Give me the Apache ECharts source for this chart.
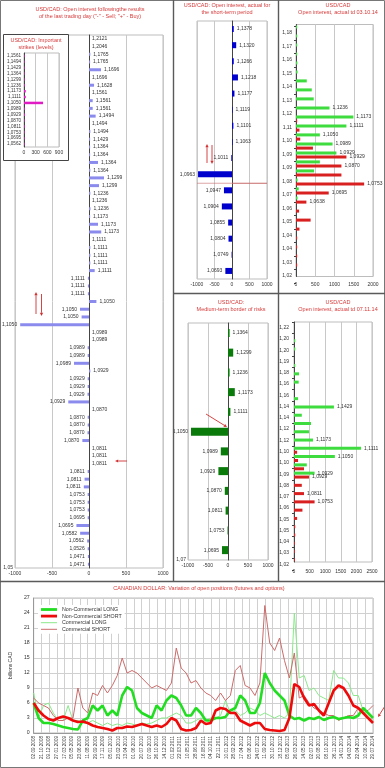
<!DOCTYPE html>
<html><head><meta charset="utf-8">
<script src="https://cdn.jsdelivr.net/npm/echarts@6/dist/echarts.min.js"></script>
<style>html,body{margin:0;padding:0;background:#fff}#c{width:385px;height:768px}</style>
</head><body><div id="c"></div>
<script>
const FONT = 'Liberation Sans';
const TITLE_RED = '#d63a3a';
const TXT = '#333';

// ---------- Panel A: open interest after last trading day ----------
const aStrikes = ['1,2121','1,2046','1,1765','1,1765','1,1696','1,1696','1,1628','1,1561','1,1561','1,1561','1,1494','1,1494','1,1494','1,1429','1,1364','1,1364','1,1364','1,1364','1,1299','1,1299','1,1236','1,1236','1,1236','1,1173','1,1173','1,1173','1,1111','1,1111','1,1111','1,1111','1,1111','1,1111','1,1111','1,1111','1,1050','1,1050','1,1050','1,1050','1,0989','1,0989','1,0989','1,0989','1,0989','1,0929','1,0929','1,0929','1,0929','1,0929','1,0870','1,0870','1,0870','1,0870','1,0870','1,0811','1,0811','1,0811','1,0811','1,0811','1,0811','1,0753','1,0753','1,0753','1,0695','1,0695','1,0582','1,0562','1,0526','1,0471','1,0471'];
const aValues = [0,0,18,15,162,0,68,0,50,50,90,0,18,15,15,15,122,18,203,135,18,0,20,15,122,165,0,18,18,18,77,-15,-15,-15,100,-122,-100,-930,0,0,-18,-18,-203,18,-18,-18,-20,-280,0,-18,-18,-20,-90,0,0,0,-18,-60,-70,-18,-18,-18,-18,-170,-120,-25,-18,-15,-15];
const aBottomTick = '1,05';

// ---------- Inset: important strikes ----------
const iStrikes = ['1,1561','1,1494','1,1429','1,1364','1,1299','1,1236','1,1173','1,1111','1,1050','1,0989','1,0929','1,0870','1,0811','1,0753','1,0695','1,0562'];
const iValues = [15,15,15,15,15,20,45,45,490,20,25,15,20,15,15,15];

// ---------- Panel B: short-term period ----------
const bStrikes = ['1,1378','1,1320','1,1266','1,1218','1,1177','1,1119','1,1101','1,1063','1,1011','1,0963','1,0947','1,0904','1,0855','1,0804','1,0749','1,0693'];
const bValues = [50,120,50,170,70,15,40,15,-20,-970,-230,-290,-110,-100,-12,-190];

// ---------- Panel C: open interest 03.10.14 ----------
const cStrikes = ['1,1834','1,1765','1,1696','1,1628','1,1561','1,1494','1,1429','1,1364','1,1299','1,1236','1,1173','1,1111','1,1050','1,0989','1,0929','1,0870','1,0811','1,0753','1,0695','1,0638','1,0582','1,0526','1,0471','1,0417','1,0363','1,0309','1,0256','1,0204'];
const cGreen = [30,30,30,30,35,40,280,410,460,870,1490,1310,620,950,1050,620,470,40,70,40,0,0,0,0,0,0,0,0];
const cRed = [0,0,0,0,0,0,0,0,0,0,30,90,110,440,1310,1180,1180,1770,850,270,80,380,90,30,30,30,30,0];
const cGreenLabeled = [9,10,11,12,13,14];
const cRedLabeled = [14,15,17,18,19];
const cTicks = ['1,18','1,17','1,16','1,15','1,14','1,13','1,12','1,11','1,10','1,09','1,09','1,08','1,07','1,06','1,05','1,04','1,04','1,03','1,02'];

// ---------- Panel D: medium-term border of risks ----------
const dStrikes = ['1,1364','1,1299','1,1236','1,1173','1,1111','1,1050','1,0989','1,0929','1,0870','1,0811','1,0753','1,0695'];
const dValues = [40,130,40,170,60,-925,-180,-240,-80,-60,-12,-150];
const dBottomTick = '1,07';

// ---------- Panel E: open interest 07.11.14 ----------
const eStrikes = ['1,2121','1,2048','1,1976','1,1905','1,1834','1,1765','1,1696','1,1628','1,1561','1,1494','1,1429','1,1364','1,1299','1,1236','1,1173','1,1111','1,1050','1,0989','1,0929','1,0870','1,0811','1,0753','1,0695','1,0638','1,0582','1,0526','1,0471','1,0417','1,0363'];
const eGreen = [0,0,40,40,0,40,160,150,0,130,1280,250,545,480,610,2150,1310,410,660,0,0,0,0,0,0,0,0,0,0];
const eRed = [0,0,0,0,0,0,0,0,0,0,0,0,0,0,0,100,130,320,480,250,320,660,270,100,40,40,30,30,30];
const eGreenLabeled = [10,14,15,16,18];
const eRedLabeled = [18,20,21];
const eTicks = ['1,22','1,20','1,20','1,19','1,18','1,16','1,16','1,14','1,14','1,12','1,12','1,10','1,10','1,09','1,08','1,07','1,06','1,05','1,05','1,04','1,03','1,02'];

// ---------- Panel F: CAD open positions ----------
const fDates = ['02.09.2008','21.10.2008','09.12.2008','27.01.2009','17.03.2009','05.05.2009','23.06.2009','11.08.2009','29.09.2009','17.11.2009','05.01.2010','23.02.2010','13.04.2010','01.06.2010','20.07.2010','07.09.2010','26.10.2010','14.12.2010','01.02.2011','22.03.2011','10.05.2011','28.06.2011','16.08.2011','04.10.2011','22.11.2011','10.01.2012','28.02.2012','17.04.2012','05.06.2012','24.07.2012','11.09.2012','30.10.2012','18.12.2012','05.02.2013','26.03.2013','14.05.2013','02.07.2013','20.08.2013','08.10.2013','26.11.2013','14.01.2014','04.03.2014','22.04.2014','10.06.2014','29.07.2014'];
const fNcLong = [6,3,2,2,1.8,1.5,1.2,1,0.8,0.7,2.5,3,5.5,4.5,5.5,3.5,4.5,3.5,7.5,9.2,8.5,5,4,3.5,3,5.5,4.5,6.5,7.5,7,5.5,3.5,3.5,5,4,2.5,2.5,3,3,3.2,4.5,5,7.5,6.5,4,4,6,12,10,8.5,7.5,6.5,3.5,2.8,3,2.5,3,2.8,3.2,2.6,3,3.2,2.8,3,3.2,3,3.5,5,4,3];
const fNcShort = [6,4.5,3.5,2.8,2.5,3,3.3,3,2.5,2.2,2.3,2,1.5,1.2,1,0.8,0.5,1,1,1.3,1.2,1.5,1.8,1.5,1.2,1.5,1.2,1.8,3,2.5,0.8,0.5,0.6,1,2.5,1.8,2,4.5,5,4.8,4,4,2.5,2,1.5,2,2,0.8,0.6,0.5,0.4,0.6,3,9.8,9.2,7,5.5,5.8,4.5,3.5,6,8.5,9.5,9,7.5,5.5,5,4,3,2];
const fCLong = [8,3,5.5,6,4,2.5,2.5,5.5,2.5,2.5,2,2,2.5,2,1.5,2,1.5,1.8,1.5,2,1.8,1.5,2,1.8,2,2.5,3,3,3.5,4,3.5,2,2,2.5,3,2.5,3,3,3.5,6.5,4,4.5,3.5,4,5,4.5,3.5,4,3.5,3,3.5,3,4,24,11,11.5,8.5,9,7.5,7,6.5,12.5,11,11,10,7.5,7.5,4.5,3,2.5];
const fCShort = [7,6,5.5,5,3.5,2.5,2.5,3,3,9,5,4,8,7.5,9.5,8,9.5,11.5,15,12,12.5,12,11,10,9,9.5,9,8.5,10,17,13,12,10,10.5,9,8,7.5,6.5,8,6.5,7.5,12.5,13.5,9.5,9,7.5,10,25.5,18,16.5,19,14.5,11,16,7,7.5,6,5,4.5,4,3.5,3.5,2.5,3,3.5,3.5,5,4.5,4.5,5.5];
const fPoints = fNcLong.map((_, i) => String(i + 1));

// ================= helpers =================
const lbl = (s) => Object.assign({fontSize: 5, color: TXT, fontFamily: FONT}, s || {});
const plain = v => String(v);
const ttlStyle = {fontSize: 5.5, color: TITLE_RED, fontFamily: FONT, fontWeight: 'normal', lineHeight: 6.8};
function ttl(text, x, y) { return {text, left: x, top: y, textAlign: 'center', padding: 0, itemGap: 0, textStyle: ttlStyle}; }
function signedBars(vals, names) {
  return vals.map((v, i) => ({value: v, label: {show: true, position: v < 0 ? 'left' : 'right', formatter: names[i], distance: 3}}));
}
function pickBars(vals, names, labeled) {
  return vals.map((v, i) => ({value: v, label: {show: labeled.indexOf(i) >= 0, position: 'right', formatter: names[i], distance: 3}}));
}
const split = {show: true, lineStyle: {color: '#c8c8c8', width: 1}};
function valueX(gridIndex, min, max, interval, margin, extra) {
  return Object.assign({type: 'value', gridIndex, min, max, interval,
    axisLabel: lbl({margin, formatter: plain}), axisLine: {show: false}, axisTick: {show: false}, splitLine: split}, extra || {});
}
function catY(gridIndex, data, extra) {
  return Object.assign({type: 'category', gridIndex, data, inverse: true,
    axisLabel: {show: false}, axisTick: {show: false},
    axisLine: {show: true, onZero: true, lineStyle: {color: '#444', width: 1}}, splitLine: {show: false}}, extra || {});
}
const gridBorder = {show: true, borderColor: '#bdbdbd', borderWidth: 1, backgroundColor: 'transparent'};

const option = {
  animation: false,
  backgroundColor: '#fff',
  textStyle: {fontFamily: FONT},
  title: [
    ttl('USD/CAD: Open interest followingthe results\nof the last trading day ("-" - Sell; "+" - Buy)', 90, 6.5),
    Object.assign(ttl('USD/CAD: Important\nstrikes (levels)', 36, 37.5), {z: 12}),
    ttl('USD/CAD: Open interest, actual for\nthe short-term period', 227, 2.5),
    ttl('USD/CAD\nOpen interest, actual td 03.10.14', 338, 2.5),
    ttl('USD/CAD:\nMedium-term border of risks', 231, 299.5),
    ttl('USD/CAD\nOpen interest, actual td 07.11.14', 338, 299.5),
    ttl('CANADIAN DOLLAR: Variation of open positions (futures and options)', 199, 585.5)
  ],
  grid: [
    Object.assign({left: 15, top: 35, width: 148, height: 533}, gridBorder),          // 0 A
    Object.assign({left: 24, top: 53, width: 35, height: 94, z: 10}, gridBorder),    // 1 inset
    Object.assign({left: 197, top: 21, width: 70, height: 258}, gridBorder),         // 2 B
    Object.assign({left: 296, top: 24.5, width: 77, height: 252}, gridBorder),       // 3 C
    {left: 296, top: 26.3, width: 77, height: 256.5, show: false},                   // 4 C ticks
    Object.assign({left: 188, top: 323, width: 80, height: 237}, gridBorder),        // 5 D
    Object.assign({left: 294, top: 322, width: 78, height: 240}, gridBorder),        // 6 E
    {left: 294, top: 322, width: 78, height: 248, show: false},                      // 7 E ticks
    Object.assign({left: 22, top: 598, width: 351, height: 135}, gridBorder)         // 8 F
  ],
  xAxis: [
    valueX(0, -1000, 1000, 500, 3),
    valueX(1, 0, 900, 300, 3, {z: 10}),
    valueX(2, -1000, 1000, 500, 3.5),
    valueX(3, 0, 2000, 500, 6),
    {type: 'value', gridIndex: 4, show: false, min: 0, max: 1},
    valueX(5, -1000, 1000, 500, 3),
    valueX(6, 0, 2500, 500, 7),
    {type: 'value', gridIndex: 7, show: false, min: 0, max: 1},
    {type: 'category', gridIndex: 8, data: fPoints, boundaryGap: false, show: false},
    {type: 'category', gridIndex: 8, data: fDates, boundaryGap: false, position: 'bottom',
      axisLabel: lbl({rotate: 90, interval: 0, margin: 3, fontSize: 4.6}),
      axisLine: {show: true, lineStyle: {color: '#999'}}, axisTick: {show: false},
      splitLine: {show: true, interval: 0, lineStyle: {color: '#d0d0d0'}}}
  ],
  yAxis: [
    catY(0, aStrikes),
    {type: 'value', gridIndex: 0, min: 0, max: 1, interval: 1, position: 'left',
      axisLabel: lbl({margin: 2, formatter: v => v === 0 ? aBottomTick : ''}),
      axisLine: {show: false}, axisTick: {show: false}, splitLine: {show: false}},
    catY(1, iStrikes, {z: 10, axisLabel: lbl({show: true, interval: 0, margin: 3, fontSize: 4.6}),
      axisLine: {show: true, lineStyle: {color: '#444'}}}),
    catY(2, bStrikes),
    catY(3, cStrikes),
    {type: 'category', gridIndex: 4, data: cTicks, inverse: true,
      axisLabel: lbl({interval: 0, margin: 4}), axisLine: {show: false},
      axisTick: {show: true, interval: 0, length: 2, lineStyle: {color: '#444'}}, splitLine: {show: false}},
    catY(5, dStrikes),
    {type: 'value', gridIndex: 5, min: 0, max: 1, interval: 1, position: 'left',
      axisLabel: lbl({margin: 2, formatter: v => v === 0 ? dBottomTick : ''}),
      axisLine: {show: false}, axisTick: {show: false}, splitLine: {show: false}},
    catY(6, eStrikes),
    {type: 'category', gridIndex: 7, data: eTicks, inverse: true,
      axisLabel: lbl({interval: 0, margin: 5}), axisLine: {show: false},
      axisTick: {show: true, interval: 0, length: 2, lineStyle: {color: '#444'}}, splitLine: {show: false}},
    {type: 'value', gridIndex: 8, min: 0, max: 27, interval: 3,
      name: 'billions CAD', nameLocation: 'middle', nameRotate: 90, nameGap: 11,
      nameTextStyle: {fontSize: 5, color: TXT, fontFamily: FONT},
      axisLabel: lbl({margin: 4, fontSize: 5.2}), axisLine: {show: true, lineStyle: {color: '#999'}},
      axisTick: {show: false}, splitLine: {show: true, lineStyle: {color: '#d0d0d0'}}}
  ],
  legend: {
    left: 38, top: 605, orient: 'vertical', itemGap: 1.6, itemWidth: 16, itemHeight: 6,
    backgroundColor: '#fff', padding: [2, 3], symbolKeepAspect: true,
    textStyle: {fontSize: 5.3, color: TXT, fontFamily: FONT},
    data: [
      {name: 'Non-Commercial LONG', icon: 'path://M0,0h40v7h-40z'},
      {name: 'Non-Commercial SHORT', icon: 'path://M0,0h40v7h-40z'},
      {name: 'Commercial LONG', icon: 'path://M0,0h40v2.5h-40z'},
      {name: 'Commercial SHORT', icon: 'path://M0,0h40v2.5h-40z'}
    ]
  },
  series: [
    {type: 'bar', name: 'A', xAxisIndex: 0, yAxisIndex: 0, barWidth: 3,
      itemStyle: {color: '#8b8bee'}, label: lbl(), data: signedBars(aValues, aStrikes)},
    {type: 'bar', name: 'inset', xAxisIndex: 1, yAxisIndex: 2, barWidth: 2.5, z: 11,
      itemStyle: {color: '#e01cc4'}, data: iValues},
    {type: 'bar', name: 'B', xAxisIndex: 2, yAxisIndex: 3, barWidth: 6,
      itemStyle: {color: '#0000cc'}, label: lbl(), data: signedBars(bValues, bStrikes)},
    {type: 'bar', name: 'C green', xAxisIndex: 3, yAxisIndex: 4, barWidth: 3, barGap: '40%',
      itemStyle: {color: '#3fdc3f'}, label: lbl(), data: pickBars(cGreen, cStrikes, cGreenLabeled)},
    {type: 'bar', name: 'C red', xAxisIndex: 3, yAxisIndex: 4, barWidth: 3, barGap: '40%',
      itemStyle: {color: '#d82020'}, label: lbl(), data: pickBars(cRed, cStrikes, cRedLabeled)},
    {type: 'bar', name: 'D', xAxisIndex: 5, yAxisIndex: 6, barWidth: 8,
      itemStyle: {color: '#0a7a0a'}, label: lbl(), data: signedBars(dValues, dStrikes)},
    {type: 'bar', name: 'E green', xAxisIndex: 6, yAxisIndex: 8, barWidth: 3, barGap: '30%',
      itemStyle: {color: '#3fdc3f'}, label: lbl(), data: pickBars(eGreen, eStrikes, eGreenLabeled)},
    {type: 'bar', name: 'E red', xAxisIndex: 6, yAxisIndex: 8, barWidth: 3, barGap: '30%',
      itemStyle: {color: '#d82020'}, label: lbl(), data: pickBars(eRed, eStrikes, eRedLabeled)},
    {type: 'line', name: 'Commercial LONG', xAxisIndex: 8, yAxisIndex: 10, symbol: 'none', showSymbol: false, z: 2,
      lineStyle: {color: '#8be88b', width: 1}, itemStyle: {color: '#8be88b'}, data: fCLong},
    {type: 'line', name: 'Commercial SHORT', xAxisIndex: 8, yAxisIndex: 10, symbol: 'none', showSymbol: false, z: 2,
      lineStyle: {color: '#cc6a6a', width: 1}, itemStyle: {color: '#cc6a6a'}, data: fCShort},
    {type: 'line', name: 'Non-Commercial LONG', xAxisIndex: 8, yAxisIndex: 10, symbol: 'none', showSymbol: false, z: 3,
      lineStyle: {color: '#22dd22', width: 2.6}, itemStyle: {color: '#22dd22'}, data: fNcLong},
    {type: 'line', name: 'Non-Commercial SHORT', xAxisIndex: 8, yAxisIndex: 10, symbol: 'none', showSymbol: false, z: 3,
      lineStyle: {color: '#ee0a0a', width: 2.6}, itemStyle: {color: '#ee0a0a'}, data: fNcShort}
  ]
};

const chart = echarts.init(document.getElementById('c'));
chart.setOption(option);

// ---------- annotations (frames, arrows, risk line) ----------
const ARROW = '#d03030';
function arrow(x1, y1, x2, y2) {
  const a = Math.atan2(y2 - y1, x2 - x1), L = 3.2, W = 1.6;
  const bx = x2 - L * Math.cos(a), by = y2 - L * Math.sin(a);
  return [
    {type: 'line', z: 30, shape: {x1, y1, x2: bx, y2: by}, style: {stroke: ARROW, lineWidth: 0.9}},
    {type: 'polygon', z: 30, shape: {points: [[x2, y2], [bx - W * Math.sin(a), by + W * Math.cos(a)], [bx + W * Math.sin(a), by - W * Math.cos(a)]]}, style: {fill: ARROW}}
  ];
}
const pB1 = chart.convertToPixel({xAxisIndex: 2, yAxisIndex: 3}, [-1000, 9]);
const pB2 = chart.convertToPixel({xAxisIndex: 2, yAxisIndex: 3}, [1000, 10]);
const riskY = (pB1[1] + pB2[1]) / 2 + 1;
const frame = {stroke: '#5a5a5a', lineWidth: 1.4};
const graphics = [
  {type: 'rect', z: 5, shape: {x: 3.5, y: 34.5, width: 65, height: 126}, style: {fill: '#fff', stroke: '#444', lineWidth: 1}},
  {type: 'line', z: 20, shape: {x1: 232, y1: riskY, x2: pB2[0], y2: riskY}, style: {stroke: '#c86a6a', lineWidth: 1}},
  {type: 'line', z: 20, shape: {x1: pB1[0], y1: riskY, x2: 232, y2: riskY}, style: {stroke: '#c86a6a', lineWidth: 0.6}},
  {type: 'rect', z: 40, shape: {x: 0.5, y: 0.5, width: 384, height: 767}, style: {fill: 'none', stroke: '#777', lineWidth: 1}},
  {type: 'line', z: 40, shape: {x1: 173.5, y1: 0, x2: 173.5, y2: 582}, style: frame},
  {type: 'line', z: 40, shape: {x1: 278.5, y1: 0, x2: 278.5, y2: 582}, style: frame},
  {type: 'line', z: 40, shape: {x1: 173.5, y1: 293.5, x2: 385, y2: 293.5}, style: frame},
  {type: 'line', z: 40, shape: {x1: 0, y1: 581.5, x2: 385, y2: 581.5}, style: frame}
]
  .concat(arrow(36, 314, 36, 292))
  .concat(arrow(41.5, 294, 41.5, 316))
  .concat(arrow(127, 461, 115, 461))
  .concat(arrow(207, 163, 207, 144))
  .concat(arrow(212, 145, 212, 164))
  .concat(arrow(206, 414, 227, 427))
  .concat(arrow(385, 706, 378, 717));
chart.setOption({graphic: graphics});
</script>
</body></html>
